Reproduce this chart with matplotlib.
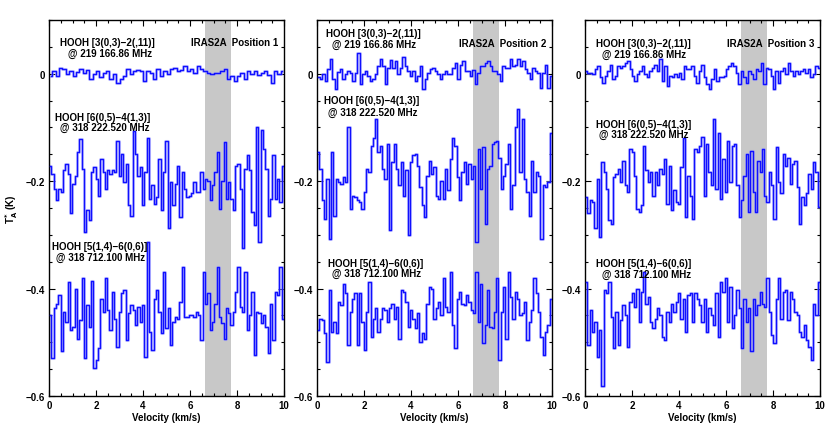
import numpy as np
import matplotlib
matplotlib.use('Agg')
import matplotlib.pyplot as plt
from matplotlib.ticker import MultipleLocator

# spectra (T_A* in K, already offset as plotted)
p1_219 = [-0.004, 0.005, -0.004, 0.011, 0.008, -0.001, 0.005, -0.004, 0.003, 0.008, 0.002, 0.006, -0.010, -0.001,
          0.005, -0.007, 0.002, 0.005, -0.010, -0.001, -0.017, -0.010, -0.004, 0.008, -0.001, 0.005, 0.007, 0.005,
          -0.014, 0.005, 0.002, -0.010, 0.008, -0.004, 0.005, -0.001, 0.008, 0.011, 0.005, 0.007, 0.014, 0.005,
          0.008, 0.002, 0.014, 0.008, 0.005, 0.001, -0.001, 0.001, 0.002, 0.005, 0.008, -0.010, -0.004, -0.014,
          -0.004, 0.002, -0.010, 0.005, -0.001, 0.005, -0.003, 0.001, 0.005, -0.003, -0.017, 0.005, -0.001, 0.005]
p2_219 = [-0.006, -0.010, -0.001, -0.014, 0.008, 0.028, -0.010, -0.029, 0.003, 0.008, -0.010, -0.001, 0.005, 0.002,
          -0.014, 0.001, 0.038, -0.020, -0.001, 0.005, -0.004, -0.014, -0.010, -0.001, 0.014, 0.028, 0.014, -0.020,
          0.011, 0.025, 0.011, 0.023, -0.001, 0.011, 0.031, 0.014, 0.005, -0.004, 0.005, -0.014, -0.004, 0.014,
          -0.029, -0.010, 0.002, 0.008, 0.011, 0.005, -0.001, -0.010, -0.001, 0.005, -0.001, -0.001, 0.011, 0.020,
          -0.010, 0.017, 0.023, 0.005, 0.005, -0.004, 0.007, -0.020, 0.002, 0.014, 0.014, 0.020, 0.023, 0.014,
          0.005, 0.005, -0.001, -0.014, 0.014, 0.011, 0.011, 0.027, 0.014, 0.017, 0.028, 0.014, 0.023, 0.008,
          0.002, -0.010, 0.011, 0.005, 0.002, -0.026, 0.002, 0.017, -0.026, -0.004]
p3_219 = [0.005, 0.001, 0.002, -0.001, 0.008, 0.014, -0.007, -0.017, -0.004, 0.005, 0.017, -0.010, -0.004, 0.014,
          0.011, 0.014, 0.020, 0.023, 0.008, -0.004, -0.014, -0.001, 0.005, 0.014, -0.001, -0.007, 0.005, 0.011,
          0.017, 0.005, 0.027, -0.014, 0.014, -0.023, -0.004, -0.007, -0.001, -0.007, 0.002, -0.010, 0.014, 0.008,
          0.008, 0.014, -0.004, -0.017, 0.005, 0.017, -0.007, -0.020, -0.029, -0.010, 0.008, -0.014, -0.007, -0.007,
          -0.004, 0.008, 0.014, 0.020, 0.014, 0.002, -0.020, 0.005, -0.007, -0.017, 0.005, -0.001, -0.010, 0.008,
          0.005, 0.020, -0.020, 0.011, 0.008, -0.004, -0.029, 0.005, -0.017, 0.005, 0.011, -0.001, 0.020, 0.005,
          -0.004, 0.005, -0.001, 0.005, 0.008, 0.002, 0.008, -0.007, -0.001, 0.014, 0.011]

p1_318a = [-0.171, -0.186, -0.214, -0.236, -0.214, -0.220, -0.180, -0.168, -0.186, -0.260, -0.205, -0.190, -0.146,
           -0.122, -0.177, -0.294, -0.254, -0.273, -0.183, -0.174, -0.196, -0.227, -0.159, -0.183, -0.214, -0.180,
           -0.186, -0.180, -0.183, -0.125, -0.190, -0.149, -0.202, -0.168, -0.245, -0.264, -0.106, -0.149, -0.190,
           -0.174, -0.245, -0.183, -0.120, -0.233, -0.208, -0.242, -0.230, -0.159, -0.254, -0.183, -0.125, -0.288,
           -0.202, -0.245, -0.205, -0.171, -0.267, -0.183, -0.214, -0.230, -0.227, -0.223, -0.202, -0.220, -0.220,
           -0.183, -0.214, -0.196, -0.199, -0.236, -0.208, -0.183, -0.146, -0.251, -0.199, -0.128, -0.233, -0.202,
           -0.233, -0.254, -0.171, -0.168, -0.214, -0.325, -0.177, -0.152, -0.180, -0.257, -0.282, -0.100, -0.313,
           -0.105, -0.140, -0.177, -0.264, -0.233, -0.152, -0.233, -0.196, -0.239, -0.171]
p2_318a = [-0.146, -0.177, -0.236, -0.270, -0.196, -0.307, -0.146, -0.264, -0.196, -0.202, -0.205, -0.193, -0.202,
           -0.100, -0.251, -0.227, -0.230, -0.236, -0.239, -0.251, -0.220, -0.177, -0.183, -0.134, -0.120, -0.085,
           -0.146, -0.134, -0.177, -0.196, -0.130, -0.291, -0.165, -0.130, -0.177, -0.208, -0.165, -0.227, -0.180,
           -0.301, -0.165, -0.152, -0.149, -0.171, -0.211, -0.245, -0.267, -0.190, -0.162, -0.186, -0.174, -0.227,
           -0.233, -0.199, -0.233, -0.177, -0.217, -0.159, -0.120, -0.134, -0.193, -0.236, -0.183, -0.165, -0.205,
           -0.168, -0.196, -0.171, -0.313, -0.140, -0.214, -0.137, -0.279, -0.177, -0.171, -0.130, -0.128, -0.125,
           -0.156, -0.214, -0.190, -0.168, -0.130, -0.251, -0.208, -0.100, -0.065, -0.183, -0.085, -0.196, -0.220,
           -0.264, -0.162, -0.220, -0.183, -0.190, -0.307, -0.208, -0.211, -0.202, -0.110]
p3_318a = [-0.230, -0.260, -0.236, -0.239, -0.288, -0.196, -0.304, -0.165, -0.183, -0.214, -0.273, -0.279, -0.193,
           -0.186, -0.177, -0.202, -0.162, -0.208, -0.220, -0.140, -0.146, -0.190, -0.251, -0.257, -0.245, -0.135,
           -0.180, -0.202, -0.183, -0.227, -0.183, -0.208, -0.177, -0.186, -0.159, -0.242, -0.171, -0.254, -0.217,
           -0.239, -0.242, -0.174, -0.120, -0.267, -0.190, -0.227, -0.270, -0.140, -0.146, -0.134, -0.117, -0.227,
           -0.130, -0.183, -0.208, -0.085, -0.214, -0.110, -0.233, -0.159, -0.220, -0.125, -0.202, -0.134, -0.130,
           -0.208, -0.267, -0.236, -0.190, -0.149, -0.257, -0.143, -0.220, -0.257, -0.162, -0.183, -0.140, -0.227,
           -0.239, -0.183, -0.208, -0.270, -0.137, -0.202, -0.223, -0.149, -0.171, -0.156, -0.205, -0.168, -0.162,
           -0.211, -0.279, -0.230, -0.245, -0.223, -0.186, -0.214, -0.165, -0.183, -0.248]

p1_318b = [-0.449, -0.530, -0.437, -0.428, -0.412, -0.517, -0.443, -0.462, -0.387, -0.477, -0.471, -0.400, -0.493,
           -0.459, -0.380, -0.530, -0.431, -0.471, -0.385, -0.548, -0.533, -0.511, -0.419, -0.443, -0.380, -0.440,
           -0.477, -0.406, -0.456, -0.508, -0.443, -0.409, -0.403, -0.496, -0.446, -0.431, -0.440, -0.468, -0.434,
           -0.462, -0.431, -0.527, -0.313, -0.480, -0.514, -0.419, -0.403, -0.443, -0.483, -0.370, -0.474, -0.437,
           -0.505, -0.462, -0.452, -0.456, -0.425, -0.360, -0.452, -0.452, -0.449, -0.449, -0.452, -0.443, -0.449,
           -0.496, -0.370, -0.428, -0.409, -0.477, -0.462, -0.428, -0.360, -0.452, -0.465, -0.493, -0.437, -0.446,
           -0.468, -0.443, -0.406, -0.360, -0.434, -0.443, -0.370, -0.477, -0.449, -0.406, -0.523, -0.443, -0.446,
           -0.465, -0.449, -0.471, -0.520, -0.428, -0.496, -0.406, -0.412, -0.360, -0.456]
p2_318b = [-0.477, -0.456, -0.459, -0.483, -0.536, -0.403, -0.480, -0.462, -0.483, -0.425, -0.431, -0.391, -0.409,
           -0.505, -0.443, -0.419, -0.409, -0.505, -0.409, -0.462, -0.514, -0.443, -0.388, -0.490, -0.456, -0.437,
           -0.480, -0.456, -0.437, -0.440, -0.462, -0.437, -0.428, -0.456, -0.434, -0.493, -0.403, -0.406, -0.425,
           -0.471, -0.440, -0.456, -0.474, -0.446, -0.499, -0.483, -0.493, -0.428, -0.397, -0.400, -0.456, -0.437,
           -0.425, -0.449, -0.380, -0.434, -0.443, -0.370, -0.468, -0.511, -0.419, -0.406, -0.428, -0.431, -0.412,
           -0.425, -0.440, -0.446, -0.370, -0.462, -0.391, -0.502, -0.468, -0.403, -0.471, -0.474, -0.443, -0.380,
           -0.533, -0.443, -0.397, -0.493, -0.370, -0.415, -0.456, -0.406, -0.419, -0.449, -0.446, -0.425, -0.496,
           -0.462, -0.440, -0.380, -0.409, -0.443, -0.490, -0.523, -0.480, -0.468, -0.419]
p3_318b = [-0.388, -0.505, -0.440, -0.480, -0.462, -0.527, -0.477, -0.582, -0.403, -0.409, -0.388, -0.452, -0.511,
           -0.443, -0.505, -0.459, -0.431, -0.449, -0.508, -0.425, -0.409, -0.434, -0.400, -0.462, -0.406, -0.370,
           -0.428, -0.415, -0.462, -0.474, -0.456, -0.437, -0.449, -0.490, -0.496, -0.443, -0.462, -0.428, -0.443,
           -0.425, -0.409, -0.456, -0.419, -0.480, -0.412, -0.409, -0.462, -0.409, -0.419, -0.431, -0.462, -0.419,
           -0.480, -0.437, -0.449, -0.468, -0.409, -0.490, -0.388, -0.406, -0.380, -0.462, -0.397, -0.474, -0.449,
           -0.403, -0.437, -0.511, -0.419, -0.462, -0.437, -0.517, -0.419, -0.449, -0.431, -0.406, -0.428, -0.434,
           -0.380, -0.443, -0.486, -0.502, -0.419, -0.380, -0.456, -0.406, -0.403, -0.459, -0.406, -0.419, -0.443,
           -0.449, -0.480, -0.490, -0.468, -0.496, -0.508, -0.533, -0.428, -0.449, -0.388]

panels = [[p1_219, p1_318a, p1_318b], [p2_219, p2_318a, p2_318b], [p3_219, p3_318a, p3_318b]]
titles = ['IRAS2A  Position 1', 'IRAS2A  Position 2', 'IRAS2A  Position 3']
lines_a = ['HOOH [3(0,3)\u22122(,11)]', 'HOOH [6(0,5)\u22124(1,3)]', 'HOOH [5(1,4)\u22126(0,6)]']
lines_b = ['@ 219 166.86 MHz', '@ 318 222.520 MHz', '@ 318 712.100 MHz']
band = (6.65, 7.75)

# label positions (x, y of first line, x, y of second line) per panel
label_pos = [
    [(0.47, 0.059, 0.80, 0.039), (0.26, -0.080, 0.47, -0.099), (0.13, -0.320, 0.30, -0.341)],
    [(0.37, 0.076, 0.64, 0.055), (0.30, -0.049, 0.47, -0.072), (0.47, -0.352, 0.64, -0.371)],
    [(0.46, 0.057, 0.71, 0.037), (0.46, -0.093, 0.60, -0.113), (0.46, -0.352, 0.71, -0.373)],
]
title_y = [0.059, 0.057, 0.057]

plt.rcParams['font.family'] = ['Liberation Sans', 'DejaVu Sans']
plt.rcParams['font.weight'] = 'bold'

fig = plt.figure(figsize=(8.3, 4.27), dpi=100)
lefts = [49 / 830, 317 / 830, 585 / 830]
for i, left in enumerate(lefts):
    ax = fig.add_axes([left, 30 / 427, 235 / 830, 376 / 427])
    ax.axvspan(band[0], band[1], color='#c8c8c8', lw=0, zorder=0)
    for spec in panels[i]:
        n = len(spec)
        vel = (np.arange(n) + 0.5) * 10.0 / n
        ax.step(vel, spec, where='mid', color='#a0a0ff', lw=2.2, alpha=0.5, zorder=2)
        ax.step(vel, spec, where='mid', color='#1010ff', lw=1.05, zorder=3)
    for j in range(3):
        x1, y1, x2, y2 = label_pos[i][j]
        ax.text(x1, y1, lines_a[j], fontsize=7, fontweight='bold', va='center', zorder=4)
        ax.text(x2, y2, lines_b[j], fontsize=7, fontweight='bold', va='center', zorder=4)
    ax.text(9.75, title_y[i], titles[i], fontsize=7, fontweight='bold', ha='right', va='center', zorder=4)

    ax.set_xlim(0, 10)
    ax.set_ylim(-0.6, 0.1)
    ax.set_xticks([0, 2, 4, 6, 8, 10])
    ax.set_yticks([-0.6, -0.4, -0.2, 0])
    ax.set_yticklabels(['\u22120.6', '\u22120.4', '\u22120.2', '0'])
    ax.xaxis.set_minor_locator(MultipleLocator(0.5))
    ax.yaxis.set_minor_locator(MultipleLocator(0.05))
    ax.tick_params(which='both', direction='in', top=True, right=True, labelsize=7, width=0.8)
    ax.tick_params(which='major', length=4, pad=3)
    ax.tick_params(which='minor', length=2)
    for s in ax.spines.values():
        s.set_linewidth(1.0)
    ax.set_xlabel('Velocity (km/s)', fontsize=7, fontweight='bold', labelpad=1)
    if i == 0:
        ax.set_ylabel(r'T$_\mathbf{A}^\mathbf{*}$ (K)', fontsize=7, fontweight='bold', labelpad=4)

fig.savefig('out.png', dpi=100)
